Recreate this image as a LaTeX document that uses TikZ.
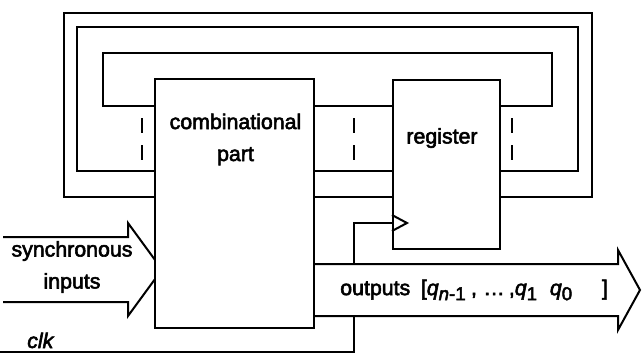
\documentclass[tikz,border=0pt]{standalone}
\usepackage{fontspec}
\setmainfont{Liberation Sans}[UprightFeatures={FakeBold=2.6},ItalicFeatures={FakeBold=2.6}]
\usetikzlibrary{arrows.meta,positioning}
\newcommand\lowsub[1]{\raisebox{-0.45ex}{\fontsize{14}{14}\selectfont #1}}

\begin{document}
\begin{tikzpicture}[x=0.75pt,y=-0.75pt,
  blk/.style={draw, fill=white, line width=1.5pt, inner sep=0pt},
  wire/.style={line width=1.5pt},
  bus/.style={line width=1.5pt, fill=white, line join=miter},
  lbl/.style={font=\fontsize{16}{24}\selectfont, align=center, inner sep=0pt}]
\useasboundingbox (0,0) rectangle (643,354);
% levels of the three state wires
\coordinate (w1) at (0,106); \coordinate (w2) at (0,171); \coordinate (w3) at (0,197);
\coordinate (ck) at (0,223);
\node[blk, minimum width=119.25pt, minimum height=186.75pt] (comb) at (234.5,203.5) {};
\node[blk, minimum width=79.9pt, minimum height=126.75pt] (reg) at (446.25,164.5) {};
% feedback loops
\draw[wire] (reg.east |- w1) -| (551.5,53) -| (102.5,106) -- (comb.west |- w1);
\draw[wire] (reg.east |- w2) -| (578,27) -| (77,171) -- (comb.west |- w2);
\draw[wire] (reg.east |- w3) -| (592,13) -| (63.5,197) -- (comb.west |- w3);
\draw[wire] (comb.east |- w1) -- (reg.west |- w1);
\draw[wire] (comb.east |- w2) -- (reg.west |- w2);
\draw[wire] (comb.east |- w3) -- (reg.west |- w3);
\foreach \x in {141.5,353.5,512} {
  \draw[wire] (\x,118) -- (\x,133); \draw[wire] (\x,145) -- (\x,160);
}
% clock
\coordinate (clk0) at (0,352);
\draw[wire] (clk0) -| (353.5,223) -- (reg.west |- ck);
\draw[wire] (reg.west |- 0,215) -- (407,223) -- (reg.west |- 0,231);
\node[lbl, anchor=base west] (clk) at (27,348) {\itshape clk};
% buses
\draw[bus] (comb.east |- 0,264) -- (618,264) -- (618,250) -- (640,290) -- (618,330) -- (618,316) -- (comb.east |- 0,316);
\draw[bus] (3,237) -- (128,237) -- (128,223) -- (162,269.5) -- (128,316) -- (128,302) -- (3,302);
\node[blk, minimum width=119.25pt, minimum height=186.75pt] at (comb) {};
\node[lbl] (combtxt) at (235.5,139.5) {combinational\\part};
\node[lbl] (regtxt) at (442,138) {register};
\node[lbl] (intxt) at (72,267) {synchronous\\inputs};
\node[lbl, anchor=west] (outtxt) at (340,290) {outputs\hspace{0.5em}[\textit{q}\lowsub{\textit{n}-1}\hspace{0.25em},\hspace{0.3em}…\hspace{0.2em},\textit{q}\lowsub{1}\hspace{0.6em}\textit{q}\lowsub{0}\hspace{1.4em}]};
\end{tikzpicture}
\end{document}
